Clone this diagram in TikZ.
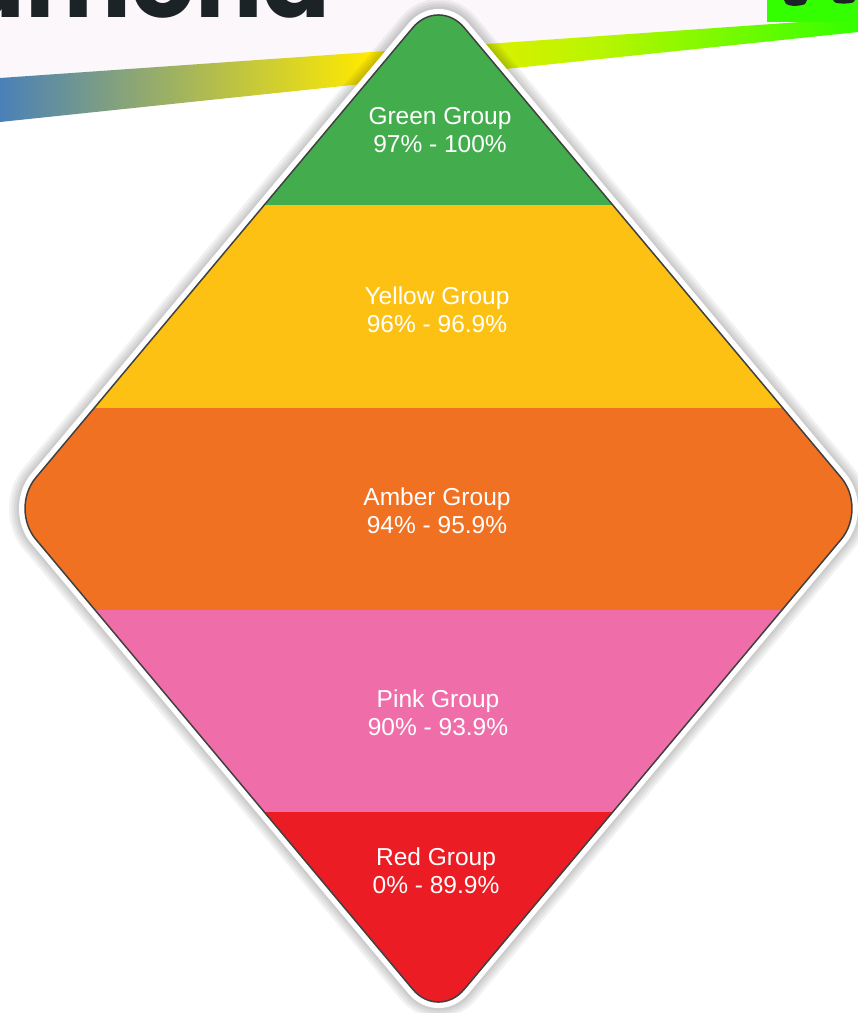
\documentclass[tikz,border=0pt]{standalone}
\usepackage{fontspec}
\setmainfont{Liberation Sans}
\newfontfamily\titlefont{Poppins}
\definecolor{cgreen}{HTML}{43AD4E}
\definecolor{cyellow}{HTML}{FDC113}
\definecolor{camber}{HTML}{F07122}
\definecolor{cpink}{HTML}{EF6EAA}
\definecolor{cred}{HTML}{EC1C24}
\definecolor{sblue}{HTML}{4A80B8}
\definecolor{syellow}{HTML}{FFEA00}
\definecolor{slime}{HTML}{B8F500}
\definecolor{sgreen}{HTML}{33FF00}
\definecolor{bglav}{HTML}{FBF7FB}
\definecolor{ink}{HTML}{1C2326}
\pgfdeclarehorizontalshading{stripe}{100bp}{color(0bp)=(sblue); color(25bp)=(sblue); color(46.5bp)=(syellow); color(60bp)=(slime); color(75bp)=(sgreen); color(100bp)=(sgreen)}
\begin{document}
\begin{tikzpicture}[x=1pt,y=-1pt,
  lbl/.style={text=white, font=\fontsize{24.5}{28}\selectfont, align=center, inner sep=0pt},
  rc/.style={rounded corners=40pt}]
\useasboundingbox (0,0) rectangle (858,1013);
\clip (0,0) rectangle (858,1013);
\fill[white] (0,0) rectangle (858,1013);
% slide background
\fill[bglav] (0,0) -- (858,0) -- (858,20) -- (0,78) -- cycle;
\shade[shading=stripe] (0,78) -- (858,18) -- (858,32) -- (0,122) -- cycle;
\fill[sgreen] (767,0) rectangle (858,22);
\fill[ink] (784,0) -- (807,0) -- (805,4) .. controls (800,6.5) and (790,6.5) .. (786,4) -- cycle;
\fill[ink] (833,0) -- (855,0) -- (853,2.5) .. controls (848,4) and (839,4) .. (835,2.5) -- cycle;
\node[font=\titlefont\bfseries\fontsize{100}{100}\selectfont, text=ink, anchor=base east, inner sep=0pt] (title) at (331,17) {amond};
% diamond shadow
\foreach \w in {32,27,22,17}
  \draw[black, opacity=0.05, line width=\w pt, rc] (438.5,-3) -- (867,508.5) -- (438.5,1020) -- (10,508.5) -- cycle;
\draw[white, line width=12pt, rc] (438.5,-3) -- (867,508.5) -- (438.5,1020) -- (10,508.5) -- cycle;
\begin{scope}
  \clip[rc] (438.5,-3) -- (867,508.5) -- (438.5,1020) -- (10,508.5) -- cycle;
  \fill[cgreen] (0,-20) rectangle (880,205);
  \fill[cyellow] (0,205) rectangle (880,408);
  \fill[camber] (0,408) rectangle (880,610);
  \fill[cpink] (0,610) rectangle (880,812);
  \fill[cred] (0,812) rectangle (880,1030);
\end{scope}
\draw[black!75, line width=1.5pt, rc] (438.5,-3) -- (867,508.5) -- (438.5,1020) -- (10,508.5) -- cycle;
% labels
\node[lbl] (green) at (440,130) {Green Group\\97\% - 100\%};
\node[lbl] (yellow) at (437,310) {Yellow Group\\96\% - 96.9\%};
\node[lbl] (amber) at (437,511) {Amber Group\\94\% - 95.9\%};
\node[lbl] (pink) at (438,713) {Pink Group\\90\% - 93.9\%};
\node[lbl] (red) at (436,871) {Red Group\\0\% - 89.9\%};
\end{tikzpicture}
\end{document}
